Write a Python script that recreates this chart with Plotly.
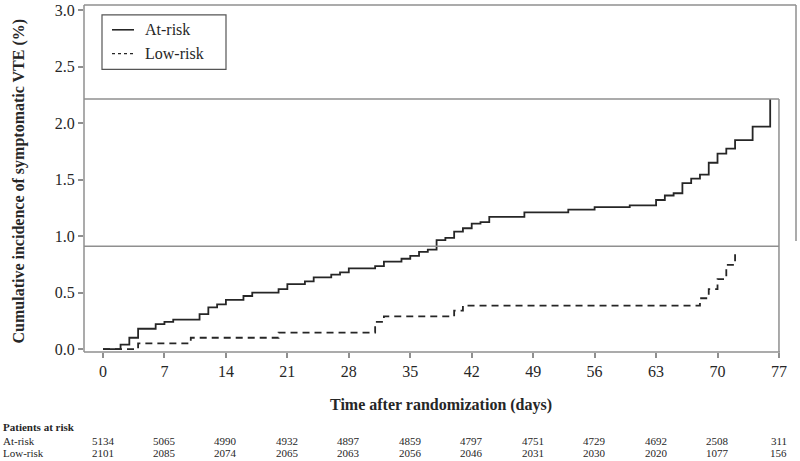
import plotly.graph_objects as go

# ---------------- data ----------------
at_risk_days = [0, 2, 3, 4, 6, 7, 8, 11, 12, 13, 14, 16, 17, 20, 21, 23, 24, 26, 27, 28,
                31, 32, 34, 35, 36, 37, 38, 39, 40, 41, 42, 43, 44, 48, 53, 56, 60, 63,
                64, 65, 66, 67, 68, 69, 70, 71, 72, 74, 76]
at_risk_inc = [0.0, 0.04, 0.10, 0.18, 0.22, 0.24, 0.26, 0.31, 0.37, 0.395, 0.435, 0.47, 0.50,
               0.53, 0.575, 0.60, 0.635, 0.66, 0.68, 0.715, 0.735, 0.775, 0.80, 0.825, 0.86,
               0.88, 0.965, 0.985, 1.04, 1.07, 1.11, 1.125, 1.17, 1.21, 1.235, 1.257, 1.272,
               1.32, 1.36, 1.38, 1.47, 1.51, 1.545, 1.65, 1.73, 1.775, 1.85, 1.97, 2.215]

low_risk_days = [0, 4, 10, 20, 31, 32, 40, 41, 68, 69, 70, 71, 72]
low_risk_inc = [0.0, 0.05, 0.10, 0.146, 0.24, 0.29, 0.34, 0.385, 0.45, 0.53, 0.62, 0.745, 0.875]

tick_days = [0, 7, 14, 21, 28, 35, 42, 49, 56, 63, 70, 77]
y_ticks = [0.0, 0.5, 1.0, 1.5, 2.0, 2.5, 3.0]
y_tick_labels = ["0.0", "0.5", "1.0", "1.5", "2.0", "2.5", "3.0"]

n_at_risk = [5134, 5065, 4990, 4932, 4897, 4859, 4797, 4751, 4729, 4692, 2508, 311]
n_low_risk = [2101, 2085, 2074, 2065, 2063, 2056, 2046, 2031, 2030, 2020, 1077, 156]

series_names = ["At-risk", "Low-risk"]
ref_levels = [2.215, 0.91]
ref_day = 77

# ---------------- layout geometry ----------------
W, H = 800, 461
L, R, T, B = 84, 4, 2, 109
PW, PH = W - L - R, H - T - B
x_range = [-2.164, 78.94]
y_range = [-0.026, 3.047]

def px_x(px):
    return (px - L) / PW

def px_y(py):
    return (H - B - py) / PH

FRAME = "#8f8f8f"
INK = "#262626"
SERIF = "Liberation Serif, Times New Roman, serif"

fig = go.Figure()
fig.add_trace(go.Scatter(x=at_risk_days, y=at_risk_inc, mode="lines", line_shape="hv",
                         line=dict(color=INK, width=1.8), name=series_names[0], showlegend=False))
fig.add_trace(go.Scatter(x=low_risk_days, y=low_risk_inc, mode="lines", line_shape="hv",
                         line=dict(color=INK, width=1.8, dash="7px,5px"),
                         name=series_names[1], showlegend=False))

shapes = []
# frame
shapes.append(dict(type="line", xref="paper", yref="paper", x0=0, x1=0, y0=0, y1=1,
                   line=dict(color=FRAME, width=1.5)))
shapes.append(dict(type="line", xref="paper", yref="paper", x0=0, x1=1, y0=1, y1=1,
                   line=dict(color=FRAME, width=1.5)))
shapes.append(dict(type="line", xref="paper", yref="paper", x0=0, x1=px_x(780), y0=0, y1=0,
                   line=dict(color=FRAME, width=1.5)))
shapes.append(dict(type="line", xref="paper", yref="paper", x0=1, x1=1, y0=px_y(240), y1=1,
                   line=dict(color=FRAME, width=1.5)))
# reference lines
for lv in ref_levels:
    shapes.append(dict(type="line", xref="x", yref="y", x0=x_range[0], x1=ref_day, y0=lv, y1=lv,
                       line=dict(color=FRAME, width=1.5)))
shapes.append(dict(type="line", xref="x", yref="y", x0=ref_day, x1=ref_day, y0=y_range[0],
                   y1=ref_levels[0], line=dict(color=FRAME, width=1.5)))
# legend box
shapes.append(dict(type="rect", xref="paper", yref="paper", x0=px_x(102), x1=px_x(226),
                   y0=px_y(67), y1=px_y(12), line=dict(color="#555555", width=1.2),
                   fillcolor="white"))
shapes.append(dict(type="line", xref="paper", yref="paper", x0=px_x(112), x1=px_x(134),
                   y0=px_y(27), y1=px_y(27), line=dict(color=INK, width=1.6)))
shapes.append(dict(type="line", xref="paper", yref="paper", x0=px_x(112), x1=px_x(134),
                   y0=px_y(51), y1=px_y(51), line=dict(color=INK, width=1.2, dash="dot")))

annotations = []
annotations.append(dict(xref="paper", yref="paper", x=px_x(143), y=px_y(27), text=series_names[0],
                        showarrow=False, xanchor="left", yanchor="middle",
                        font=dict(family=SERIF, size=16, color=INK)))
annotations.append(dict(xref="paper", yref="paper", x=px_x(143), y=px_y(51), text=series_names[1],
                        showarrow=False, xanchor="left", yanchor="middle",
                        font=dict(family=SERIF, size=16, color=INK)))
# axis titles
annotations.append(dict(xref="paper", yref="paper", x=px_x(19), y=px_y(180),
                        text="<b>Cumulative incidence of symptomatic VTE (%)</b>", textangle=-90,
                        showarrow=False, xanchor="center", yanchor="middle",
                        font=dict(family=SERIF, size=16, color=INK)))
annotations.append(dict(xref="paper", yref="paper", x=px_x(441), y=px_y(405),
                        text="<b>Time after randomization (days)</b>",
                        showarrow=False, xanchor="center", yanchor="middle",
                        font=dict(family=SERIF, size=16, color=INK)))
# patients at risk table
annotations.append(dict(xref="paper", yref="paper", x=px_x(1), y=px_y(428),
                        text="<b>Patients at risk</b>", showarrow=False, xanchor="left",
                        yanchor="middle", font=dict(family=SERIF, size=11, color=INK)))
for name, row_y in zip(series_names, [441.5, 453.5]):
    annotations.append(dict(xref="paper", yref="paper", x=px_x(1), y=px_y(row_y), text=name,
                            showarrow=False, xanchor="left", yanchor="middle",
                            font=dict(family=SERIF, size=11, color=INK)))
for counts, row_y in zip([n_at_risk, n_low_risk], [441.5, 453.5]):
    for d, n in zip(tick_days, counts):
        annotations.append(dict(xref="x", yref="paper", x=d, y=px_y(row_y), text=str(n),
                                showarrow=False, xanchor="center", yanchor="middle",
                                font=dict(family=SERIF, size=11, color=INK)))

fig.update_layout(
    width=W, height=H, margin=dict(l=L, r=R, t=T, b=B),
    paper_bgcolor="white", plot_bgcolor="white",
    showlegend=False, shapes=shapes, annotations=annotations,
    xaxis=dict(range=x_range, tickvals=tick_days, ticktext=[str(d) for d in tick_days],
               showgrid=False, zeroline=False, showline=False, ticks="outside", ticklen=5,
               tickcolor=FRAME, tickwidth=1.5, ticklabeloverflow="allow",
               tickfont=dict(family=SERIF, size=16, color=INK)),
    yaxis=dict(range=y_range, tickvals=y_ticks, ticktext=y_tick_labels,
               showgrid=False, zeroline=False, showline=False, ticks="outside", ticklen=5,
               tickcolor=FRAME, tickwidth=1.5, ticklabeloverflow="allow",
               tickfont=dict(family=SERIF, size=16, color=INK)),
)

fig.write_html("out.html", config={"displayModeBar": False},
               post_script="document.body.style.margin='0';document.body.style.overflow='hidden';")
